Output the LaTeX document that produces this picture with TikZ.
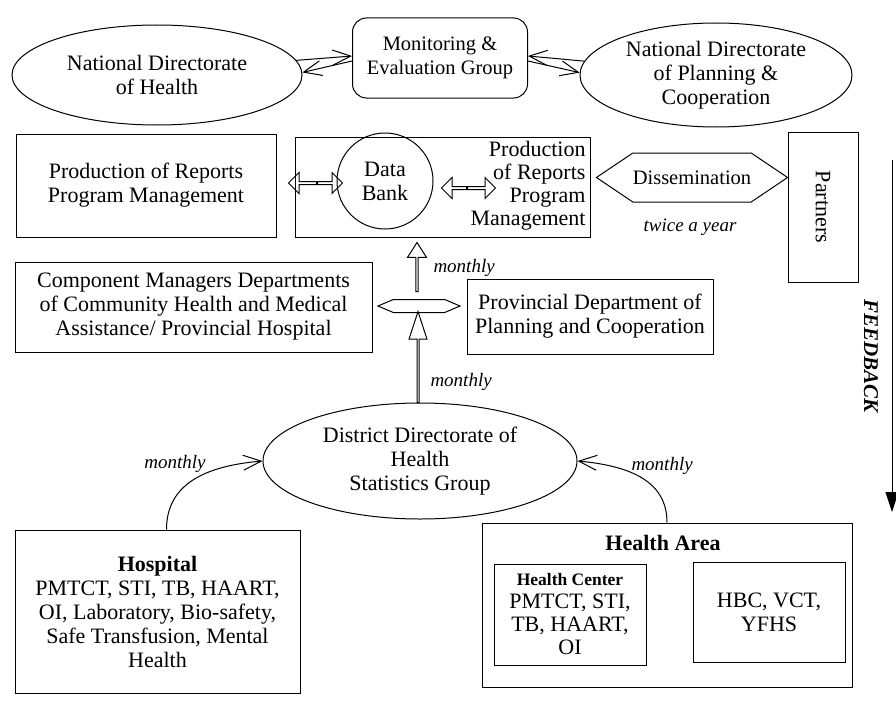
\documentclass[tikz,border=0pt]{standalone}
\usepackage{fontspec}
\setmainfont{Liberation Serif}
\usetikzlibrary{shapes.geometric,shapes.arrows,shapes.symbols,arrows.meta}

\begin{document}
\begin{tikzpicture}[x=1pt, y=-1pt, line width=1pt,
    every node/.style={font=\fontsize{22}{24}\selectfont, align=center, inner sep=0pt},
    ellbox/.style={draw, ellipse},
    plainbox/.style={draw, rectangle},
    hollow/.style={draw, single arrow, single arrow head extend=3pt, minimum width=21pt, anchor=tail},
    pointed/.style={draw, signal, signal to=west and east},
    freq/.style={font=\fontsize{19}{22}\selectfont\itshape},
    barb/.tip={Straight Barb[length=18pt, width=15pt, line width=1pt]}]
        \useasboundingbox (0,0) rectangle (896,701);

        % national level
        \node[ellbox, minimum width=290, minimum height=100] (ndh) at (157,75) {National Directorate\\of Health};
        \node[plainbox, rounded corners=14pt, minimum width=175, minimum height=80, font=\fontsize{20.5}{24}\selectfont] (meg) at (440,58) {Monitoring \&\\Evaluation Group};
        \node[ellbox, minimum width=272, minimum height=104] (ndpc) at (716,75) {National Directorate\\of Planning \&\\Cooperation};
        \draw[-barb] (ndh.6) -- ([yshift=2pt]meg.west);
        \draw[barb-] (ndh.1) -- ([yshift=-3pt]meg.west);
        \draw[barb-] ([yshift=2pt]meg.east) -- (ndpc.174);
        \draw[-barb] ([yshift=-3pt]meg.east) -- (ndpc.179);

        % data bank row
        \node[plainbox, minimum width=260, minimum height=103] (prod) at (146,185.5) {Production of Reports\\Program Management};
        \node[plainbox, minimum width=295, minimum height=100] (bank) at (442.5,187) {};
        \node[draw, circle, minimum size=96] (data) at (385,181) {Data\\Bank};
        \node[align=right, anchor=north east, font=\fontsize{22}{23}\selectfont] (prodr) at (586,141) {Production\\of Reports\\Program\\Management};
        \node[hollow, shape border rotate=180, minimum height=28] (bl1) at (317,183) {};
        \node[hollow, minimum height=25] (bl2) at (317,183) {};
        \node[hollow, shape border rotate=180, minimum height=25] (br1) at (467,188) {};
        \node[hollow, minimum height=28] (br2) at (467,188) {};
        \node[pointed, minimum width=190, minimum height=49, signal pointer angle=68, font=\fontsize{20.5}{24}\selectfont] (diss) at (692,177.5) {Dissemination};
        \node[freq] (twice) at (690,227) {twice a year};
        \node[plainbox, rotate=-90, minimum width=150, minimum height=70] (part) at (823,207) {Partners};

        % feedback
        \coordinate (fbtop) at (892,160);
        \coordinate (fbend) at (892,512);
        \draw[-{Triangle[length=20pt, width=13pt]}] (fbtop) -- (fbend);
        \node[rotate=-90, font=\fontsize{21}{24}\selectfont\bfseries\itshape] (fb) at (871,356) {FEEDBACK};

        % provincial level
        \node[plainbox, minimum width=357, minimum height=90] (comp) at (193.5,307) {Component Managers Departments\\of Community Health and Medical\\Assistance/ Provincial Hospital};
        \node[plainbox, minimum width=246, minimum height=75] (prov) at (590,316.5) {Provincial Department of\\Planning and Cooperation};
        \node[pointed, minimum width=82, minimum height=13, signal pointer angle=46] (hub) at (419,306) {};
        \node[hollow, shape border rotate=90, minimum height=49, minimum width=19, single arrow head extend=4pt, single arrow tip angle=65] (upA) at (417,292) {};
        \node[freq, anchor=west] (m1) at (433,268) {monthly};

        % district level
        \node[ellbox, minimum width=314, minimum height=116] (ddh) at (420,461) {District Directorate of\\Health\\Statistics Group};
        \node[hollow, shape border rotate=90, minimum height=91, minimum width=18, single arrow head extend=4pt, single arrow tip angle=36] (upB) at (418,403) {};
        \node[freq, anchor=west] (m2) at (430,382) {monthly};

        % facilities
        \node[plainbox, minimum width=285, minimum height=163] (hosp) at (157.5,611.5) {\textbf{Hospital}\\PMTCT, STI, TB, HAART,\\OI, Laboratory, Bio-safety,\\Safe Transfusion, Mental\\Health};
        \node[plainbox, minimum width=370, minimum height=164] (area) at (667,605) {};
        \node[font=\fontsize{22}{24}\selectfont\bfseries] (areat) at (663,543) {Health Area};
        \node[plainbox, minimum width=152, minimum height=101, font=\fontsize{22}{23}\selectfont] (hc) at (570,614.5) {{\fontsize{17.5}{20}\selectfont\bfseries Health Center}\\PMTCT, STI,\\TB, HAART,\\OI};
        \node[plainbox, minimum width=152, minimum height=100] (hbc) at (769,612) {HBC, VCT,\\YFHS};

        \draw[-barb] ([xshift=9pt]hosp.north) .. controls +(0,-45) and +(-58,5) .. (ddh.west);
        \node[freq, anchor=east] (m3) at (206,464) {monthly};
        \draw[-barb] (area.north) .. controls +(0,-40) and +(55,5) .. (ddh.east);
        \node[freq, anchor=west] (m4) at (631,466) {monthly};
\end{tikzpicture}
\end{document}
